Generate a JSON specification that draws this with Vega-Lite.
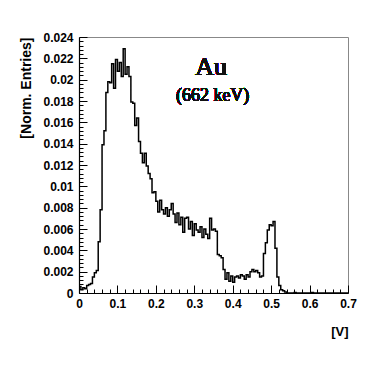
{
  "$schema": "https://vega.github.io/schema/vega-lite/v6.json",
  "width": 269,
  "height": 256,
  "autosize": {"type": "none"},
  "padding": {"left": 79, "top": 37, "right": 40, "bottom": 75},
  "background": "white",
  "config": {
    "view": {"stroke": "#888", "strokeWidth": 1},
    "font": "Liberation Sans"
  },
  "data": {
    "values": [
      {"v": 0.000, "n": 0.0006}, {"v": 0.005, "n": 0.0003}, {"v": 0.010, "n": 0.0005}, {"v": 0.015, "n": 0.0004},
      {"v": 0.020, "n": 0.0007}, {"v": 0.025, "n": 0.0008}, {"v": 0.030, "n": 0.0009}, {"v": 0.035, "n": 0.0015},
      {"v": 0.040, "n": 0.0019}, {"v": 0.045, "n": 0.0021}, {"v": 0.050, "n": 0.0048}, {"v": 0.055, "n": 0.0078},
      {"v": 0.060, "n": 0.0139}, {"v": 0.065, "n": 0.0152}, {"v": 0.070, "n": 0.0188}, {"v": 0.075, "n": 0.0198},
      {"v": 0.080, "n": 0.0197}, {"v": 0.085, "n": 0.0215}, {"v": 0.090, "n": 0.0192}, {"v": 0.095, "n": 0.0219},
      {"v": 0.100, "n": 0.0208}, {"v": 0.105, "n": 0.0216}, {"v": 0.110, "n": 0.0203}, {"v": 0.115, "n": 0.0229},
      {"v": 0.120, "n": 0.0205}, {"v": 0.125, "n": 0.0212}, {"v": 0.130, "n": 0.0203}, {"v": 0.135, "n": 0.0179},
      {"v": 0.140, "n": 0.0178}, {"v": 0.145, "n": 0.0157}, {"v": 0.150, "n": 0.0164}, {"v": 0.155, "n": 0.0142},
      {"v": 0.160, "n": 0.0131}, {"v": 0.165, "n": 0.0122}, {"v": 0.170, "n": 0.0131}, {"v": 0.175, "n": 0.0119},
      {"v": 0.180, "n": 0.0112}, {"v": 0.185, "n": 0.0107}, {"v": 0.190, "n": 0.0094}, {"v": 0.195, "n": 0.0095},
      {"v": 0.200, "n": 0.0086}, {"v": 0.205, "n": 0.0076}, {"v": 0.210, "n": 0.0087}, {"v": 0.215, "n": 0.0078},
      {"v": 0.220, "n": 0.0074}, {"v": 0.225, "n": 0.0080}, {"v": 0.230, "n": 0.0072}, {"v": 0.235, "n": 0.0078},
      {"v": 0.240, "n": 0.0084}, {"v": 0.245, "n": 0.0074}, {"v": 0.250, "n": 0.0066}, {"v": 0.255, "n": 0.0075},
      {"v": 0.260, "n": 0.0064}, {"v": 0.265, "n": 0.0071}, {"v": 0.270, "n": 0.0057}, {"v": 0.275, "n": 0.0070},
      {"v": 0.280, "n": 0.0071}, {"v": 0.285, "n": 0.0060}, {"v": 0.290, "n": 0.0067}, {"v": 0.295, "n": 0.0054},
      {"v": 0.300, "n": 0.0065}, {"v": 0.305, "n": 0.0059}, {"v": 0.310, "n": 0.0057}, {"v": 0.315, "n": 0.0062},
      {"v": 0.320, "n": 0.0052}, {"v": 0.325, "n": 0.0060}, {"v": 0.330, "n": 0.0055}, {"v": 0.335, "n": 0.0051},
      {"v": 0.340, "n": 0.0070}, {"v": 0.345, "n": 0.0059}, {"v": 0.350, "n": 0.0060}, {"v": 0.355, "n": 0.0058},
      {"v": 0.360, "n": 0.0036}, {"v": 0.365, "n": 0.0035}, {"v": 0.370, "n": 0.0033}, {"v": 0.375, "n": 0.0022},
      {"v": 0.380, "n": 0.0013}, {"v": 0.385, "n": 0.0019}, {"v": 0.390, "n": 0.0011}, {"v": 0.395, "n": 0.0016},
      {"v": 0.400, "n": 0.0010}, {"v": 0.405, "n": 0.0015}, {"v": 0.410, "n": 0.0016}, {"v": 0.415, "n": 0.0014},
      {"v": 0.420, "n": 0.0017}, {"v": 0.425, "n": 0.0016}, {"v": 0.430, "n": 0.0013}, {"v": 0.435, "n": 0.0017},
      {"v": 0.440, "n": 0.0015}, {"v": 0.445, "n": 0.0020}, {"v": 0.450, "n": 0.0022}, {"v": 0.455, "n": 0.0020},
      {"v": 0.460, "n": 0.0021}, {"v": 0.465, "n": 0.0019}, {"v": 0.470, "n": 0.0015}, {"v": 0.475, "n": 0.0016},
      {"v": 0.480, "n": 0.0037}, {"v": 0.485, "n": 0.0047}, {"v": 0.490, "n": 0.0059}, {"v": 0.495, "n": 0.0064},
      {"v": 0.500, "n": 0.0063}, {"v": 0.505, "n": 0.0067}, {"v": 0.510, "n": 0.0042}, {"v": 0.515, "n": 0.0015},
      {"v": 0.520, "n": 0.0007}, {"v": 0.525, "n": 0.0003}, {"v": 0.530, "n": 0.0002}, {"v": 0.535, "n": 0.0001},
      {"v": 0.540, "n": 0.0}, {"v": 0.545, "n": 0.0}, {"v": 0.550, "n": 0.0}, {"v": 0.555, "n": 0.0},
      {"v": 0.560, "n": 0.00005}, {"v": 0.565, "n": 0.0}, {"v": 0.570, "n": 0.0}, {"v": 0.575, "n": 0.0},
      {"v": 0.580, "n": 0.0}, {"v": 0.585, "n": 0.0}, {"v": 0.590, "n": 0.0}, {"v": 0.595, "n": 0.0},
      {"v": 0.600, "n": 0.0}, {"v": 0.605, "n": 0.00005}, {"v": 0.610, "n": 0.0}, {"v": 0.615, "n": 0.0},
      {"v": 0.620, "n": 0.0}, {"v": 0.625, "n": 0.0}, {"v": 0.630, "n": 0.0}, {"v": 0.635, "n": 0.0},
      {"v": 0.640, "n": 0.0}, {"v": 0.645, "n": 0.0}, {"v": 0.650, "n": 0.0}, {"v": 0.655, "n": 0.0},
      {"v": 0.660, "n": 0.0}, {"v": 0.665, "n": 0.0}, {"v": 0.670, "n": 0.0}, {"v": 0.675, "n": 0.0},
      {"v": 0.680, "n": 0.0}, {"v": 0.685, "n": 0.0}, {"v": 0.690, "n": 0.0}, {"v": 0.695, "n": 0.0},
      {"v": 0.700, "n": 0.0}
    ]
  },
  "resolve": {"axis": {"x": "independent", "y": "independent"}},
  "layer": [
    {
      "mark": {"type": "line", "interpolate": "step-after", "color": "black", "strokeWidth": 1.5, "opacity": 0},
      "encoding": {
        "x": {
          "field": "v", "type": "quantitative",
          "scale": {"domain": [0, 0.7], "nice": false, "zero": false},
          "axis": {
            "orient": "bottom", "title": null, "labels": false, "domain": false, "grid": false,
            "values": [0.02,0.04,0.06,0.08,0.12,0.14,0.16,0.18,0.22,0.24,0.26,0.28,0.32,0.34,0.36,0.38,0.42,0.44,0.46,0.48,0.52,0.54,0.56,0.58,0.62,0.64,0.66,0.68],
            "tickSize": -4, "tickColor": "black", "tickWidth": 1
          }
        },
        "y": {
          "field": "n", "type": "quantitative",
          "scale": {"domain": [0, 0.024], "nice": false},
          "axis": {
            "orient": "left", "title": null, "labels": false, "domain": false, "grid": false,
            "values": [0.0004,0.0008,0.0012,0.0016,0.0024,0.0028,0.0032,0.0036,0.0044,0.0048,0.0052,0.0056,0.0064,0.0068,0.0072,0.0076,0.0084,0.0088,0.0092,0.0096,0.0104,0.0108,0.0112,0.0116,0.0124,0.0128,0.0132,0.0136,0.0144,0.0148,0.0152,0.0156,0.0164,0.0168,0.0172,0.0176,0.0184,0.0188,0.0192,0.0196,0.0204,0.0208,0.0212,0.0216,0.0224,0.0228,0.0232,0.0236],
            "tickSize": -4, "tickColor": "black", "tickWidth": 1
          }
        }
      }
    },
    {
      "mark": {"type": "line", "interpolate": "step-after", "color": "black", "strokeWidth": 1.5, "clip": true},
      "encoding": {
        "x": {
          "field": "v", "type": "quantitative",
          "scale": {"domain": [0, 0.7], "nice": false, "zero": false},
          "axis": {
            "orient": "bottom",
            "title": "[V]",
            "titleFont": "Liberation Sans", "titleFontWeight": "bold", "titleFontSize": 13, "titleColor": "black",
            "titleAnchor": "end", "titleAlign": "right", "titlePadding": 16,
            "values": [0, 0.1, 0.2, 0.3, 0.4, 0.5, 0.6, 0.7],
            "format": "~g",
            "labelFont": "Liberation Sans", "labelFontWeight": "bold", "labelFontSize": 12, "labelColor": "black",
            "labelPadding": 13, "labelFlush": false, "labelOverlap": false,
            "tickSize": -8, "tickColor": "black", "tickWidth": 1,
            "domainColor": "black", "domainWidth": 1.2,
            "grid": false
          }
        },
        "y": {
          "field": "n", "type": "quantitative",
          "scale": {"domain": [0, 0.024], "nice": false},
          "axis": {
            "orient": "left",
            "title": "[Norm. Entries]",
            "titleFont": "Liberation Sans", "titleFontWeight": "bold", "titleFontSize": 14, "titleColor": "black",
            "titleAnchor": "end", "titlePadding": 9,
            "values": [0, 0.002, 0.004, 0.006, 0.008, 0.01, 0.012, 0.014, 0.016, 0.018, 0.02, 0.022, 0.024],
            "format": "~g",
            "labelFont": "Liberation Sans", "labelFontWeight": "bold", "labelFontSize": 12, "labelColor": "black",
            "labelPadding": 14, "labelFlush": false, "labelOverlap": false,
            "tickSize": -8, "tickColor": "black", "tickWidth": 1,
            "domainColor": "black", "domainWidth": 1.2,
            "grid": false
          }
        }
      }
    },
    {
      "mark": {"type": "text", "font": "Times New Roman, Liberation Serif, serif", "fontWeight": "normal", "fontSize": 26, "fill": "#111", "align": "center", "baseline": "alphabetic"},
      "encoding": {
        "x": {"datum": 0.344, "type": "quantitative", "axis": null},
        "y": {"datum": 0.0204, "type": "quantitative", "axis": null},
        "text": {"value": "Au"}
      }
    },
    {
      "mark": {"type": "text", "font": "Times New Roman, Liberation Serif, serif", "fontWeight": "normal", "fontSize": 18, "fill": "#111", "align": "center", "baseline": "alphabetic"},
      "encoding": {
        "x": {"datum": 0.3477, "type": "quantitative", "axis": null},
        "y": {"datum": 0.018, "type": "quantitative", "axis": null},
        "text": {"value": "(662 keV)"}
      }
    }
  ]
}
